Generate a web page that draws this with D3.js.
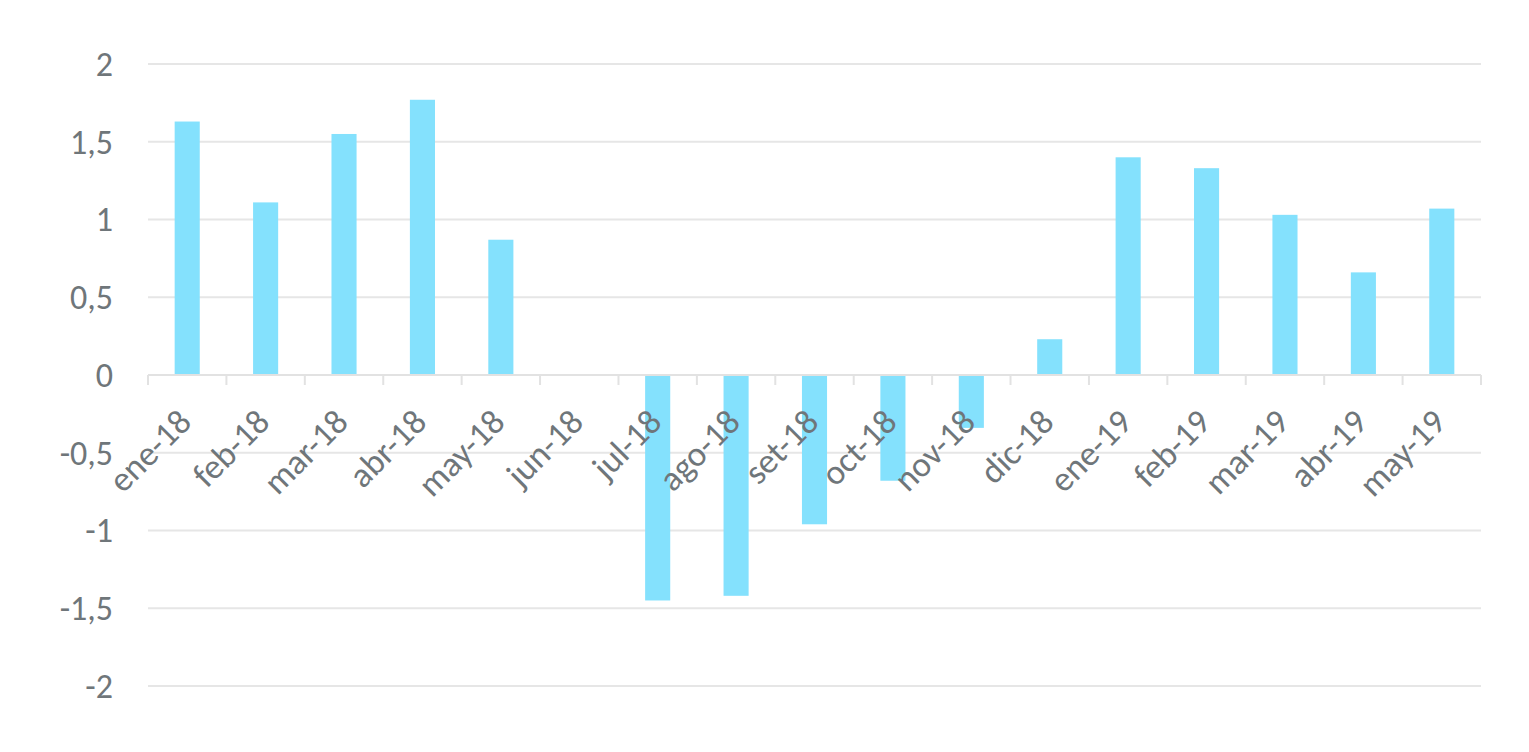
<!DOCTYPE html>
<html><head><meta charset="utf-8">
<script src="https://cdn.jsdelivr.net/npm/d3@7"></script>
<style>body{margin:0;background:#fff;}svg{display:block;}</style>
</head><body><svg id="c" width="1529" height="752"></svg>
<script>
const categories = ["ene-18","feb-18","mar-18","abr-18","may-18","jun-18","jul-18","ago-18","set-18","oct-18","nov-18","dic-18","ene-19","feb-19","mar-19","abr-19","may-19"];
const values = [1.63,1.11,1.55,1.77,0.87,0,-1.45,-1.42,-0.96,-0.68,-0.34,0.23,1.40,1.33,1.03,0.66,1.07];
const yTicks = [-2,-1.5,-1,-0.5,0,0.5,1,1.5,2];

const svg = d3.select("#c");
const mLeft = 148, mRight = 1481, mTop = 64, mBottom = 686;
const x = d3.scaleBand().domain(categories).range([mLeft, mRight]).paddingInner(0.68).paddingOuter(0.34);
const xb = d3.scaleBand().domain(categories).range([mLeft, mRight]);
const y = d3.scaleLinear().domain([-2, 2]).range([mBottom, mTop]);
const font = "Carlito, Calibri, Lato, 'Open Sans', sans-serif";
const txt = "#6f767a";

svg.append("g").selectAll("line").data(yTicks.filter(d => d !== 0)).join("line")
  .attr("x1", mLeft).attr("x2", mRight)
  .attr("y1", d => y(d)).attr("y2", d => y(d))
  .attr("stroke", "#e6e6e6").attr("stroke-width", 2);

svg.append("g").selectAll("text").data(yTicks).join("text")
  .attr("x", 113).attr("y", d => y(d)).attr("dy", "0.35em")
  .attr("text-anchor", "end").attr("font-family", font).attr("font-size", 34)
  .attr("fill", txt).text(d => String(d).replace(".", ","));

svg.append("g").selectAll("rect").data(values).join("rect")
  .attr("x", (d, i) => x(categories[i]))
  .attr("width", x.bandwidth())
  .attr("y", d => y(Math.max(0, d)))
  .attr("height", d => Math.abs(y(d) - y(0)))
  .attr("fill", "#84e1fd");

const ax = svg.append("g");
ax.append("line").attr("x1", mLeft).attr("x2", mRight).attr("y1", y(0)).attr("y2", y(0))
  .attr("stroke", "#e2e2e2").attr("stroke-width", 2);
const bounds = categories.map(c => xb(c)).concat([mRight]);
ax.selectAll("line.t").data(bounds).join("line").attr("class", "t")
  .attr("x1", d => d).attr("x2", d => d).attr("y1", y(0)).attr("y2", y(0) + 10)
  .attr("stroke", "#e2e2e2").attr("stroke-width", 2);

svg.append("g").selectAll("text").data(categories).join("text")
  .attr("transform", c => `translate(${xb(c) + xb.bandwidth() / 2 + 6},${y(0) + 49}) rotate(-45)`)
  .attr("text-anchor", "end")
  .attr("font-family", font).attr("font-size", 35).attr("fill", txt).text(c => c);
</script></body></html>
